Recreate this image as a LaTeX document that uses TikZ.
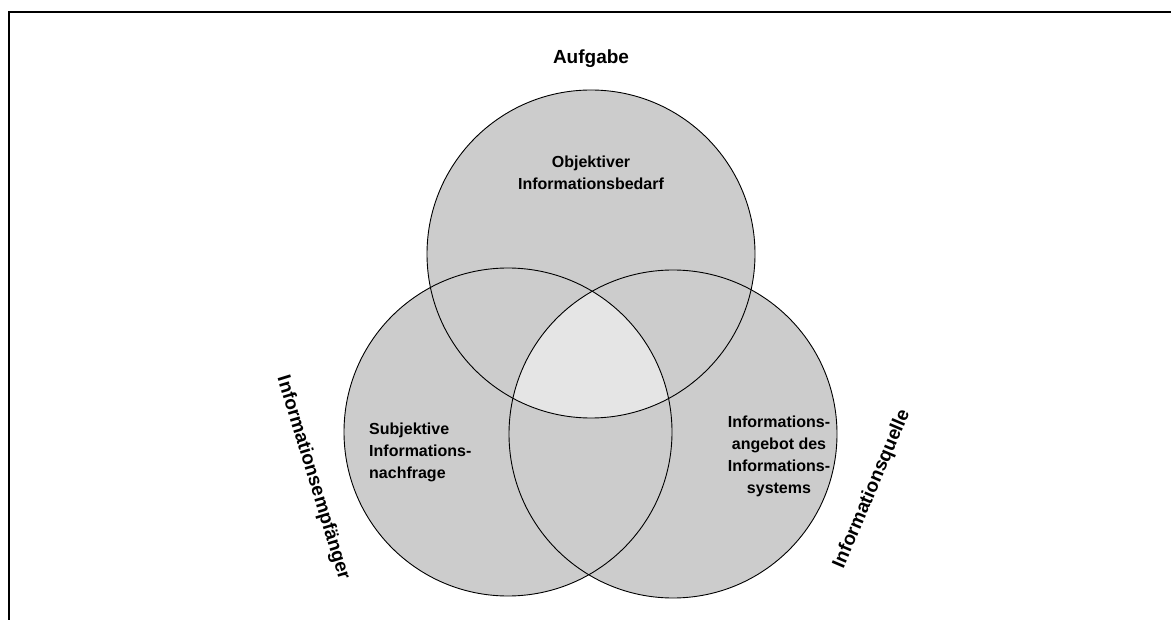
\documentclass[tikz,border=0pt]{standalone}
\usepackage{fontspec}
\setmainfont{Liberation Sans}
\begin{document}
\begin{tikzpicture}[x=1pt,y=-1pt,
  setfill/.style={fill=black!20},
  corefill/.style={fill=black!10},
  setline/.style={draw=black,line width=0.9pt},
  frameline/.style={draw=black,line width=1.8pt},
  inner/.style={font=\fontsize{16}{22}\selectfont\bfseries,inner sep=0pt},
  outer/.style={font=\fontsize{19}{23}\selectfont\bfseries,inner sep=0pt}]
\useasboundingbox (0,0) rectangle (1171,620);
% frame
\draw[frameline] (9,620) -- (9,12) -- (1171,12);
% centres of the three sets
\coordinate (top) at (591,254);
\coordinate (left) at (508,432);
\coordinate (right) at (673,434);
\def\rad{164}
% filled discs
\fill[setfill] (top) circle (\rad);
\fill[setfill] (left) circle (\rad);
\fill[setfill] (right) circle (\rad);
% common part of all three
\begin{scope}
  \clip (top) circle (\rad);
  \clip (left) circle (\rad);
  \fill[corefill] (right) circle (\rad);
\end{scope}
% outlines
\draw[setline] (top) circle (\rad);
\draw[setline] (left) circle (\rad);
\draw[setline] (right) circle (\rad);
% labels
\node[outer] (aufgabe) at (591,59) {Aufgabe};
\node[inner,align=center] (obj) at (591,173) {Objektiver\\Informationsbedarf};
\node[inner,align=left,anchor=west] (subj) at (369,452) {Subjektive\\Informations-\\nachfrage};
\node[inner,align=center] (angebot) at (779,456) {Informations-\\angebot des\\Informations-\\systems};
\node[outer,rotate=-73] (empf) at (313,478) {Informationsempfänger};
\node[outer,rotate=67] (quelle) at (872,489) {Informationsquelle};
\end{tikzpicture}
\end{document}
